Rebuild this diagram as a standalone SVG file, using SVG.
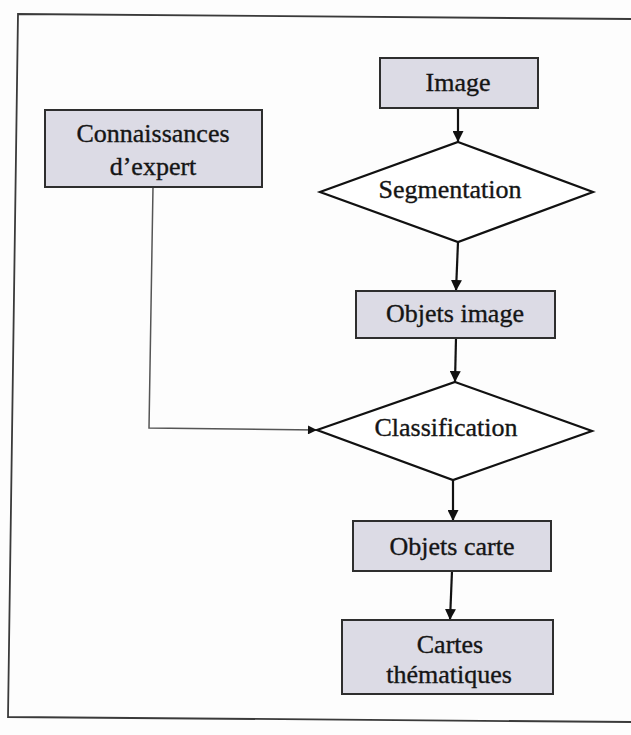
<svg xmlns="http://www.w3.org/2000/svg" width="631" height="735" viewBox="0 0 631 735">
  <style>
    .box { fill: #dcdbe5; stroke: #2e2e2e; stroke-width: 2; }
    .dia { fill: #ffffff; stroke: #111111; stroke-width: 2.2; stroke-linejoin: miter; }
    .lbl { font-family: "Liberation Serif", "Times New Roman", serif; font-size: 26px; fill: #151515; stroke: #151515; stroke-width: 0.35; text-anchor: middle; }
    .flow { stroke: #111111; stroke-width: 2.2; fill: none; }
    .side { stroke: #555555; stroke-width: 1.5; fill: none; }
    .frame { stroke: #3a3a3a; stroke-width: 1.8; fill: none; }
  </style>
  <defs>
    <marker id="head" viewBox="0 0 10 10" refX="10" refY="5" markerWidth="5" markerHeight="5" markerUnits="strokeWidth" orient="auto">
      <path d="M0,0 L10,5 L0,10 Z" fill="#111111"/>
    </marker>
    <marker id="headThin" viewBox="0 0 10 10" refX="10" refY="5" markerWidth="7" markerHeight="6" markerUnits="strokeWidth" orient="auto">
      <path d="M0,0 L10,5 L0,10 Z" fill="#111111"/>
    </marker>
  </defs>

  <rect x="0" y="0" width="631" height="735" fill="#fdfdfd"/>

  <!-- page frame, slightly skewed -->
  <path class="frame" d="M631,19 L18,14 L8,717 L631,722"/>

  <!-- connectors -->
  <g id="connectors">
    <line class="flow" x1="458" y1="108" x2="458" y2="142" marker-end="url(#head)"/>
    <line class="flow" x1="458" y1="242" x2="456" y2="291" marker-end="url(#head)"/>
    <line class="flow" x1="456" y1="338" x2="455" y2="382" marker-end="url(#head)"/>
    <line class="flow" x1="453" y1="480" x2="453" y2="521" marker-end="url(#head)"/>
    <line class="flow" x1="452" y1="571" x2="450" y2="620" marker-end="url(#head)"/>
    <polyline class="side" points="153,187 149,428 317,430" marker-end="url(#headThin)"/>
  </g>

  <g id="image">
    <rect class="box" x="380" y="58" width="158" height="50"/>
    <text class="lbl" x="458" y="91">Image</text>
  </g>

  <g id="connaissances">
    <rect class="box" x="45" y="110" width="217" height="77"/>
    <text class="lbl" x="153" y="142">Connaissances</text>
    <text class="lbl" x="153" y="175">d’expert</text>
  </g>

  <g id="segmentation">
    <polygon class="dia" points="458,142 593,192 458,242 320,192"/>
    <text class="lbl" x="450" y="198">Segmentation</text>
  </g>

  <g id="objets-image">
    <rect class="box" x="356" y="291" width="199" height="47"/>
    <text class="lbl" x="455" y="322">Objets image</text>
  </g>

  <g id="classification">
    <polygon class="dia" points="455,382 592,431 453,480 317,430"/>
    <text class="lbl" x="446" y="436">Classification</text>
  </g>

  <g id="objets-carte">
    <rect class="box" x="353" y="521" width="198" height="50"/>
    <text class="lbl" x="452" y="555">Objets carte</text>
  </g>

  <g id="cartes-thematiques">
    <rect class="box" x="342" y="620" width="211" height="74"/>
    <text class="lbl" x="450" y="653">Cartes</text>
    <text class="lbl" x="449" y="683">thématiques</text>
  </g>
</svg>
